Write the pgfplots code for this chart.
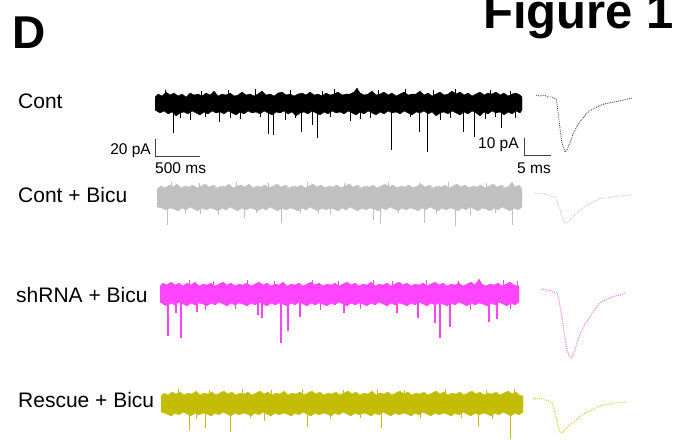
\documentclass[border=0pt]{standalone}
\usepackage{pgfplots}
\pgfplotsset{compat=1.18}
\usepackage{fontspec}
\setmainfont{Liberation Sans}
\definecolor{cgray}{HTML}{C0C0C0}
\definecolor{cmag}{HTML}{FF44FF}
\definecolor{cyel}{HTML}{C4BC00}
\definecolor{cgrayavg}{HTML}{C4C4C4}
\definecolor{cmagavg}{HTML}{F08CF0}
\definecolor{cyelavg}{HTML}{D4CC40}
\begin{document}
\begin{tikzpicture}
\begin{axis}[name=ax,
  width=676pt, height=439pt, scale only axis,
  xmin=0, xmax=676, ymin=0, ymax=439, y dir=reverse,
  axis lines=none, clip=false, unbounded coords=jump]

% ---------- Cont (black) band ----------
\addplot[fill=black, draw=black, line width=0.3pt] coordinates {
(155,97)(158,94)(162,96)(166,92)(170,95)(174,93)(178,96)(182,94)(186,97)(190,93)(194,95)(198,94)(202,96)(206,93)(210,95)(214,91)(218,96)(222,94)(226,95)(230,93)(234,96)(238,95)(242,92)(246,95)(250,94)(254,96)(258,94)(262,91)(266,95)(270,94)(274,96)(278,93)(282,92)(286,95)(290,94)(294,96)(298,94)(302,93)(306,95)(310,92)(314,95)(318,94)(322,96)(326,93)(330,95)(334,94)(338,92)(342,95)(346,94)(350,94)(354,92)(357,88)(360,93)(364,95)(368,94)(372,91)(376,95)(380,94)(384,92)(388,95)(392,93)(396,96)(400,94)(404,92)(408,95)(412,94)(416,94)(420,91)(424,95)(428,93)(432,96)(436,94)(440,92)(444,95)(448,94)(452,91)(456,94)(460,92)(464,95)(468,93)(472,96)(476,94)(480,92)(484,95)(488,93)(492,94)(496,92)(500,95)(504,93)(508,96)(512,94)(516,93)(520,95)(522,97)
(522,110)(520,113)(516,111)(512,114)(508,112)(504,115)(500,112)(496,113)(492,111)(488,114)(484,112)(480,116)(476,113)(472,111)(468,114)(464,112)(460,115)(456,113)(452,111)(448,114)(444,112)(440,113)(436,116)(432,112)(428,114)(424,111)(420,113)(416,112)(412,115)(408,113)(404,111)(400,114)(396,112)(392,113)(388,111)(384,114)(380,112)(376,115)(372,113)(368,111)(364,114)(360,112)(356,115)(352,113)(348,111)(344,114)(340,112)(336,113)(332,111)(328,114)(324,112)(320,115)(316,113)(312,111)(308,114)(304,112)(300,113)(296,116)(292,112)(288,114)(284,111)(280,113)(276,112)(272,115)(268,113)(264,111)(260,114)(256,112)(252,113)(248,111)(244,114)(240,112)(236,115)(232,113)(228,111)(224,114)(220,112)(216,113)(212,111)(208,114)(204,112)(200,115)(196,113)(192,111)(188,114)(184,112)(180,113)(176,116)(172,112)(168,114)(164,111)(160,113)(155,110)
};
\addplot[black, line width=0.5pt] coordinates {
(165,100)(165,90) (165,nan) (201,100)(201,91) (201,nan) (228,100)(228,90) (228,nan)
(255,100)(255,89) (255,nan) (290,100)(290,90) (290,nan) (322,100)(322,91) (322,nan)
(334,100)(334,89) (334,nan) (378,100)(378,90) (378,nan) (405,100)(405,89) (405,nan)
(433,100)(433,90) (433,nan) (455,100)(455,89) (455,nan) (490,100)(490,90) (490,nan)
(510,100)(510,91) (510,nan)
(180,108)(180,118) (180,nan) (205,108)(205,117) (205,nan) (230,108)(230,118) (230,nan)
(260,108)(260,117) (260,nan) (295,108)(295,118) (295,nan) (330,108)(330,117) (330,nan)
(370,108)(370,118) (370,nan) (410,108)(410,117) (410,nan) (450,108)(450,118) (450,nan)
(495,108)(495,117) (495,nan) (515,108)(515,118)
};
\addplot[black, line width=0.8pt] coordinates {
(173,105)(173,133) (173,nan)
(190,105)(190,120) (190,nan)
(219,105)(219,122) (219,nan)
(240,105)(240,119) (240,nan)
(268,105)(268,134) (268,nan)
(273,105)(273,135) (273,nan)
(285,105)(285,120) (285,nan)
(301,105)(301,132) (301,nan)
(312,105)(312,125) (312,nan)
(317,105)(317,138) (317,nan)
(350,105)(350,121) (350,nan)
(360,105)(360,119) (360,nan)
(391,105)(391,150) (391,nan)
(419,105)(419,132) (419,nan)
(427,105)(427,152) (427,nan)
(440,105)(440,120) (440,nan)
(463,105)(463,132) (463,nan)
(474,105)(474,137) (474,nan)
(485,105)(485,119) (485,nan)
(501,105)(501,128)
};
% Cont average
\addplot[black!70, densely dotted, line width=0.9pt] coordinates {
(536,95)(540,96)(544,95)(548,97)(552,97)(556,99)(557,104)(558,112)(559,120)(560,128)(561,136)(562,143)(564,149)(565,152)(567,150)(569,145)(571,140)(573,134)(576,128)(579,123)(583,118)(587,113)(591,110)(595,108)(599,106)(604,104)(609,103)(614,102)(619,101)(624,100)(628,99)(632,98)
};

% ---------- Cont + Bicu (gray) ----------
\addplot[fill=cgray, draw=cgray, line width=0.3pt] coordinates {
(157,189)(161,186)(165,188)(169,185)(173,187)(177,184)(181,188)(185,186)(189,187)(193,185)(197,188)(201,186)(205,184)(209,187)(213,185)(217,188)(221,186)(225,187)(229,184)(233,188)(237,186)(241,185)(245,187)(249,184)(253,188)(257,186)(261,187)(265,185)(269,188)(273,186)(277,184)(281,187)(285,185)(289,188)(293,186)(297,187)(301,185)(305,188)(309,186)(313,184)(317,187)(321,185)(325,188)(329,186)(333,187)(337,185)(341,188)(345,186)(349,184)(353,187)(357,185)(361,188)(365,186)(369,187)(373,185)(377,188)(381,186)(385,184)(389,187)(393,185)(397,188)(401,186)(405,187)(409,185)(413,188)(417,186)(421,184)(425,187)(429,185)(433,188)(437,186)(441,187)(445,185)(449,188)(453,186)(457,184)(461,187)(465,185)(469,188)(473,186)(477,187)(481,185)(485,188)(489,186)(493,184)(497,187)(501,185)(505,188)(509,186)(512,182)(515,187)(519,185)(522,189)
(522,207)(518,210)(514,208)(510,211)(506,209)(502,207)(498,210)(494,208)(490,211)(486,209)(482,208)(478,211)(474,209)(470,207)(466,210)(462,208)(458,211)(454,209)(450,208)(446,210)(442,208)(438,211)(434,209)(430,207)(426,210)(422,208)(418,211)(414,209)(410,208)(406,210)(402,208)(398,211)(394,209)(390,207)(386,210)(382,208)(378,211)(374,209)(370,208)(366,210)(362,208)(358,211)(354,209)(350,207)(346,210)(342,208)(338,211)(334,209)(330,208)(326,210)(322,208)(318,211)(314,209)(310,207)(306,210)(302,208)(298,211)(294,209)(290,208)(286,210)(282,208)(278,211)(274,209)(270,207)(266,210)(262,208)(258,211)(254,209)(250,208)(246,210)(242,208)(238,211)(234,209)(230,207)(226,210)(222,208)(218,211)(214,209)(210,208)(206,210)(202,208)(198,211)(194,209)(190,207)(186,210)(182,208)(178,211)(174,209)(170,208)(166,210)(162,208)(157,207)
};
\addplot[cgray, line width=0.5pt] coordinates {
(171,192)(171,182) (171,nan) (199,192)(199,183) (199,nan) (236,192)(236,182) (236,nan)
(268,192)(268,183) (268,nan) (307,192)(307,182) (307,nan) (344,192)(344,183) (344,nan)
(388,192)(388,182) (388,nan) (420,192)(420,183) (420,nan) (448,192)(448,182) (448,nan)
(486,192)(486,183) (486,nan)
(185,204)(185,214) (185,nan) (256,204)(256,213) (256,nan) (318,204)(318,214) (318,nan)
(398,204)(398,213) (398,nan) (436,204)(436,214) (436,nan) (495,204)(495,213)
};
\addplot[cgray, line width=0.8pt] coordinates {
(167,198)(167,225) (167,nan)
(200,198)(200,214) (200,nan)
(218,198)(218,215) (218,nan)
(244,198)(244,218) (244,nan)
(281,198)(281,223) (281,nan)
(300,198)(300,213) (300,nan)
(330,198)(330,214) (330,nan)
(373,198)(373,220) (373,nan)
(380,198)(380,224) (380,nan)
(424,198)(424,223) (424,nan)
(455,198)(455,226) (455,nan)
(470,198)(470,215) (470,nan)
(512,198)(512,225)
};
\addplot[cgrayavg, densely dotted, line width=0.9pt] coordinates {
(535,193)(539,194)(543,193)(547,195)(551,196)(555,197)(557,201)(559,207)(561,213)(563,219)(565,223)(568,222)(571,219)(575,215)(579,211)(583,208)(587,205)(591,203)(595,201)(599,199)(603,198)(608,198)(613,197)(618,196)(623,196)(628,195)(632,195)
};

% ---------- shRNA + Bicu (magenta) ----------
\addplot[fill=cmag, draw=cmag, line width=0.3pt] coordinates {
(160,286)(163,283)(167,285)(171,282)(175,285)(179,283)(183,286)(187,283)(191,285)(195,282)(199,286)(203,284)(207,285)(211,283)(215,286)(219,284)(223,282)(227,285)(231,283)(235,286)(239,284)(243,285)(247,283)(251,286)(255,284)(259,282)(263,285)(267,283)(271,286)(275,284)(279,285)(283,282)(287,286)(291,284)(295,285)(299,283)(303,286)(307,284)(311,282)(315,285)(319,283)(323,286)(327,284)(331,285)(335,283)(339,286)(343,284)(347,282)(351,285)(355,283)(359,286)(363,284)(367,285)(371,282)(375,286)(379,284)(383,285)(387,283)(391,286)(395,284)(399,282)(403,285)(407,283)(411,286)(415,284)(419,285)(423,283)(427,286)(431,284)(435,282)(439,285)(443,283)(447,286)(451,284)(455,285)(459,283)(463,286)(467,284)(471,282)(475,285)(479,279)(482,284)(486,286)(490,284)(494,285)(498,283)(502,286)(506,284)(510,282)(514,285)(519,286)
(519,302)(515,305)(511,303)(507,306)(503,304)(499,302)(495,305)(491,303)(487,306)(483,304)(479,303)(475,305)(471,303)(467,306)(463,304)(459,302)(455,305)(451,303)(447,306)(443,304)(439,303)(435,305)(431,303)(427,306)(423,304)(419,302)(415,305)(411,303)(407,306)(403,304)(399,303)(395,305)(391,303)(387,306)(383,304)(379,302)(375,305)(371,303)(367,306)(363,304)(359,303)(355,305)(351,303)(347,306)(343,304)(339,302)(335,305)(331,303)(327,306)(323,304)(319,303)(315,305)(311,303)(307,306)(303,304)(299,302)(295,305)(291,303)(287,306)(283,304)(279,303)(275,305)(271,303)(267,306)(263,304)(259,302)(255,305)(251,303)(247,306)(243,304)(239,303)(235,305)(231,303)(227,306)(223,304)(219,302)(215,305)(211,303)(207,306)(203,304)(199,303)(195,305)(191,303)(187,306)(183,304)(179,302)(175,305)(171,303)(167,306)(163,304)(160,302)
};
\addplot[cmag, line width=0.6pt] coordinates {
(189,289)(189,280) (189,nan) (213,289)(213,281) (213,nan) (247,289)(247,280) (247,nan)
(274,289)(274,281) (274,nan) (312,289)(312,280) (312,nan) (338,289)(338,281) (338,nan)
(373,289)(373,280) (373,nan) (392,289)(392,281) (392,nan) (426,289)(426,280) (426,nan)
(458,289)(458,281) (458,nan) (503,289)(503,280) (503,nan) (517,289)(517,281) (517,nan)
(205,300)(205,310) (205,nan) (235,300)(235,309) (235,nan) (320,300)(320,310) (320,nan)
(360,300)(360,309) (360,nan) (470,300)(470,310) (470,nan) (510,300)(510,309)
};
\addplot[cmag, line width=1.4pt] coordinates {
(168,294)(168,336) (168,nan)
(176,294)(176,313) (176,nan)
(181,294)(181,338) (181,nan)
(197,294)(197,312) (197,nan)
(258,294)(258,315) (258,nan)
(262,294)(262,318) (262,nan)
(281,294)(281,343) (281,nan)
(288,294)(288,331) (288,nan)
(300,294)(300,317) (300,nan)
(344,294)(344,313) (344,nan)
(397,294)(397,313) (397,nan)
(418,294)(418,318) (418,nan)
(435,294)(435,323) (435,nan)
(440,294)(440,338) (440,nan)
(450,294)(450,327) (450,nan)
(489,294)(489,322) (489,nan)
(497,294)(497,319)
};
\addplot[cmagavg, densely dotted, line width=1.1pt] coordinates {
(541,290)(544,289)(547,291)(550,290)(553,292)(557,293)(559,300)(561,312)(563,325)(565,338)(567,350)(569,356)(572,357)(575,350)(578,340)(581,332)(585,324)(590,317)(595,309)(600,303)(605,300)(610,298)(615,296)(620,295)(625,293)
};

% ---------- Rescue + Bicu (yellow) ----------
\addplot[fill=cyel, draw=cyel, line width=0.3pt] coordinates {
(161,396)(164,393)(168,395)(172,392)(176,394)(180,392)(184,395)(188,393)(192,394)(196,391)(200,395)(204,393)(208,394)(212,392)(216,395)(220,393)(224,391)(228,394)(232,392)(236,395)(240,393)(244,394)(248,392)(252,395)(256,393)(260,391)(264,394)(268,392)(272,395)(276,393)(280,394)(284,391)(288,395)(292,393)(296,394)(300,392)(304,395)(308,393)(312,391)(316,394)(320,392)(324,395)(328,393)(332,394)(336,392)(340,395)(344,393)(348,391)(352,394)(356,392)(360,395)(364,393)(368,394)(372,391)(376,395)(380,393)(384,394)(388,392)(392,395)(396,393)(400,391)(404,394)(408,392)(412,395)(416,393)(420,394)(424,392)(428,395)(432,393)(436,391)(440,394)(444,392)(448,395)(452,393)(456,394)(460,392)(464,395)(468,393)(472,391)(476,394)(480,392)(484,395)(488,393)(492,394)(496,392)(500,395)(504,393)(508,391)(512,394)(516,392)(519,395)(523,396)
(523,412)(519,415)(515,413)(511,416)(507,414)(503,412)(499,415)(495,413)(491,416)(487,414)(483,413)(479,415)(475,413)(471,416)(467,414)(463,412)(459,415)(455,413)(451,416)(447,414)(443,413)(439,415)(435,413)(431,416)(427,414)(423,412)(419,415)(415,413)(411,416)(407,414)(403,413)(399,415)(395,413)(391,416)(387,414)(383,412)(379,415)(375,413)(371,416)(367,414)(363,413)(359,415)(355,413)(351,416)(347,414)(343,412)(339,415)(335,413)(331,416)(327,414)(323,413)(319,415)(315,413)(311,416)(307,414)(303,412)(299,415)(295,413)(291,416)(287,414)(283,413)(279,415)(275,413)(271,416)(267,414)(263,412)(259,415)(255,413)(251,416)(247,414)(243,413)(239,415)(235,413)(231,416)(227,414)(223,412)(219,415)(215,413)(211,416)(207,414)(203,413)(199,415)(195,413)(191,416)(187,414)(183,412)(179,415)(175,413)(171,416)(167,414)(161,412)
};
\addplot[cyel, line width=0.5pt] coordinates {
(178,398)(178,389) (178,nan) (209,398)(209,390) (209,nan) (242,398)(242,389) (242,nan)
(271,398)(271,390) (271,nan) (302,398)(302,389) (302,nan) (343,398)(343,390) (343,nan)
(377,398)(377,389) (377,nan) (404,398)(404,390) (404,nan) (445,398)(445,389) (445,nan)
(486,398)(486,390) (486,nan) (514,398)(514,389) (514,nan)
(196,410)(196,419) (196,nan) (250,410)(250,418) (250,nan) (330,410)(330,419) (330,nan)
(420,410)(420,418) (420,nan) (492,410)(492,419)
};
\addplot[cyel, line width=0.8pt] coordinates {
(189,404)(189,430) (189,nan)
(205,404)(205,428) (205,nan)
(230,404)(230,432) (230,nan)
(264,404)(264,421) (264,nan)
(307,404)(307,427) (307,nan)
(360,404)(360,418) (360,nan)
(381,404)(381,428) (381,nan)
(461,404)(461,418) (461,nan)
(478,404)(478,427) (478,nan)
(510,404)(510,439)
};
\addplot[cyelavg, densely dotted, line width=1.0pt] coordinates {
(533,398)(537,399)(541,398)(545,400)(549,401)(552,403)(554,409)(556,417)(558,426)(560,432)(562,433)(565,430)(568,426)(572,423)(576,420)(581,416)(587,412)(592,410)(597,407)(603,405)(609,404)(615,403)(621,402)(627,402)
};

% ---------- scale bars ----------
\addplot[black!75, line width=0.8pt] coordinates {(155,139)(155,156)(200,156)};
\addplot[black!75, line width=0.8pt] coordinates {(524,138)(524,155)(551,155)};

% ---------- texts ----------
\node[anchor=base west, inner sep=0pt, font=\fontsize{46}{46}\selectfont\bfseries] at (axis cs:12,48) {D};
\node[anchor=base west, inner sep=0pt, font=\fontsize{49}{49}\selectfont\bfseries] at (axis cs:483,28) {Figure 1};
\node[anchor=base west, inner sep=0pt, font=\fontsize{21}{21}\selectfont] at (axis cs:18,108) {Cont};
\node[anchor=base west, inner sep=0pt, font=\fontsize{21}{21}\selectfont] at (axis cs:18,202) {Cont + Bicu};
\node[anchor=base west, inner sep=0pt, font=\fontsize{21}{21}\selectfont] at (axis cs:16,302) {shRNA + Bicu};
\node[anchor=base west, inner sep=0pt, font=\fontsize{21}{21}\selectfont] at (axis cs:18,407) {Rescue + Bicu};
\node[anchor=base east, font=\fontsize{15.5}{15.5}\selectfont, inner sep=0pt] at (axis cs:151,154) {20 pA};
\node[anchor=base west, font=\fontsize{15.5}{15.5}\selectfont, inner sep=0pt] at (axis cs:155,173) {500 ms};
\node[anchor=base west, font=\fontsize{15.5}{15.5}\selectfont, inner sep=0pt] at (axis cs:478,148) {10 pA};
\node[anchor=base east, font=\fontsize{15.5}{15.5}\selectfont, inner sep=0pt] at (axis cs:551,173) {5 ms};
\end{axis}
\pgfresetboundingbox
\useasboundingbox (ax.south west) rectangle (ax.north east);
\end{tikzpicture}
\end{document}
